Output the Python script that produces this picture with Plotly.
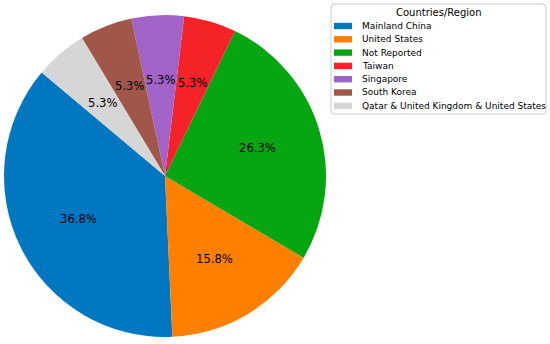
import math
import plotly.graph_objects as go

# pie data
regions = ['Mainland China', 'United States', 'Not Reported', 'Taiwan',
           'Singapore', 'South Korea', 'Qatar & United Kingdom & United States']
counts = [7, 3, 5, 1, 1, 1, 1]
colors = ['#0077c0', '#ff8000', '#06a512', '#f52328', '#a263c8', '#a0574a', '#d6d6d6']
legend_title = 'Countries/Region'

W, H = 550, 344
start_angle = 140  # degrees, first slice starts here and runs counterclockwise
cx, cy, R = 165, 176, 161  # pie centre / radius in pixels
total = sum(counts)

fig = go.Figure()
fig.add_trace(go.Pie(
    labels=regions,
    values=counts,
    sort=False,
    direction='counterclockwise',
    rotation=90 - (start_angle + 360 * counts[0] / total),
    marker=dict(colors=colors, line=dict(width=0)),
    textinfo='none',
    hoverinfo='label+percent',
    showlegend=False,
    domain=dict(x=[(cx - R) / W, (cx + R) / W], y=[1 - (cy + R) / H, 1 - (cy - R) / H]),
))

def px(x):
    return x / W

def py(y):
    return 1 - y / H

# percentage labels at 0.6 of the radius (matplotlib pctdistance)
cum = 0
for v in counts:
    theta = math.radians(start_angle + 360 * (cum + v / 2) / total)
    cum += v
    fig.add_annotation(
        x=px(cx + 0.6 * R * math.cos(theta)), y=py(cy - 0.6 * R * math.sin(theta)),
        xref='paper', yref='paper', xanchor='center', yanchor='middle', showarrow=False,
        text=f'{100 * v / total:.1f}%',
        font=dict(family='DejaVu Sans', size=11.6, color='black'),
    )

# legend drawn by hand to get matplotlib spacing
bx0, by0, bx1, by1, rr = 331, 4, 546, 114, 3
path = (f'M {px(bx0 + rr)},{py(by0)} L {px(bx1 - rr)},{py(by0)} '
        f'Q {px(bx1)},{py(by0)} {px(bx1)},{py(by0 + rr)} '
        f'L {px(bx1)},{py(by1 - rr)} Q {px(bx1)},{py(by1)} {px(bx1 - rr)},{py(by1)} '
        f'L {px(bx0 + rr)},{py(by1)} Q {px(bx0)},{py(by1)} {px(bx0)},{py(by1 - rr)} '
        f'L {px(bx0)},{py(by0 + rr)} Q {px(bx0)},{py(by0)} {px(bx0 + rr)},{py(by0)} Z')
fig.add_shape(type='path', path=path, xref='paper', yref='paper',
              line=dict(color='#cccccc', width=1), fillcolor='rgba(255,255,255,0.8)')
fig.add_annotation(x=px((bx0 + bx1) / 2), y=py(12.5), xref='paper', yref='paper',
                   xanchor='center', yanchor='middle', showarrow=False, text=legend_title,
                   font=dict(family='DejaVu Sans', size=10, color='black'))
for i, (name, col) in enumerate(zip(regions, colors)):
    yc = 26 + i * 13.3
    fig.add_shape(type='rect', xref='paper', yref='paper',
                  x0=px(334), x1=px(352), y0=py(yc - 3.2), y1=py(yc + 3.2),
                  line=dict(width=0), fillcolor=col)
    fig.add_annotation(x=px(360), y=py(yc), xref='paper', yref='paper',
                       xanchor='left', yanchor='middle', showarrow=False, text=name,
                       font=dict(family='DejaVu Sans', size=9, color='black'))

fig.update_layout(
    width=W, height=H,
    margin=dict(l=0, r=0, t=0, b=0),
    paper_bgcolor='white',
    font=dict(family='DejaVu Sans', color='black'),
    showlegend=False,
)
fig.write_html('out.html', config={'displayModeBar': False},
               post_script="document.body.style.margin='0';")
